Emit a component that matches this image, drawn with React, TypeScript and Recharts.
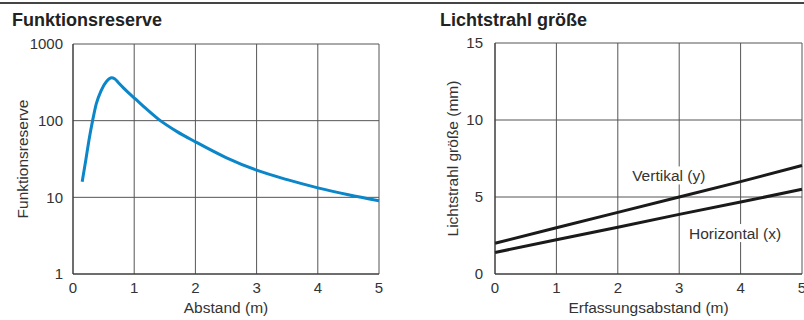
import React from "react";
import { LineChart, Line, XAxis, YAxis, CartesianGrid, ReferenceDot } from "recharts";

const FONT = "'Liberation Sans', Arial, sans-serif";

// Left chart: Funktionsreserve vs Abstand
const reserveDistance = [0.15, 0.21, 0.26, 0.32, 0.38, 0.46, 0.55, 0.63, 0.68, 0.75, 0.82, 0.9, 1.02, 1.2, 1.4, 1.7, 2.0, 2.5, 3.0, 3.5, 4.0, 4.5, 5.0];
const reserveValues = [16, 31, 55, 100, 166, 247, 326, 362, 352, 308, 270, 234, 192, 142, 104, 72, 53, 33, 22.6, 17, 13.3, 10.8, 9];
const reserveXTicks = [0, 1, 2, 3, 4, 5];
const reserveYTicks = [1, 10, 100, 1000];

// Right chart: Lichtstrahl größe vs Erfassungsabstand
const beamDistance = [0, 1, 2, 3, 4, 5];
const beamVertical = [2.0, 3.0, 4.0, 5.0, 6.0, 7.05];
const beamHorizontal = [1.4, 2.22, 3.04, 3.87, 4.67, 5.5];
const beamXTicks = [0, 1, 2, 3, 4, 5];
const beamYTicks = [0, 5, 10, 15];

const labelVertical = { text: "Vertikal (y)", x: 2.83, y: 6.4 };
const labelHorizontal = { text: "Horizontal (x)", x: 3.91, y: 2.66 };

const reserveData = reserveDistance.map((d, i) => ({ d, v: reserveValues[i] }));
const beamData = beamDistance.map((d, i) => ({ d, vert: beamVertical[i], hor: beamHorizontal[i] }));

const TXT = 15.5;
const tickStyle = { fill: "#333", fontSize: 15, fontFamily: FONT };

const RotatedLabel = (text: string, cx: number) => (props: any) => {
  const vb = props.viewBox || {};
  const cy = vb.y + vb.height / 2;
  return (
    <text
      x={cx}
      y={cy}
      transform={`rotate(-90 ${cx} ${cy})`}
      textAnchor="middle"
      dominantBaseline="central"
      fill="#333"
      fontSize={TXT}
      fontFamily={FONT}
    >
      {text}
    </text>
  );
};

const BoxLabel = (text: string) => (props: any) => {
  const vb = props.viewBox || {};
  const cx = vb.x + (vb.width || 0) / 2;
  const cy = vb.y + (vb.height || 0) / 2;
  const w = text.length * 6.9 + 4;
  return (
    <g>
      <rect x={cx - w / 2} y={cy - 9} width={w} height={18} fill="#fff" />
      <text x={cx} y={cy} textAnchor="middle" dominantBaseline="central" fill="#333" fontSize={TXT} fontFamily={FONT}>
        {text}
      </text>
    </g>
  );
};

const XTitle = (text: string) => (props: any) => {
  const vb = props.viewBox || {};
  const cx = vb.x + vb.width / 2;
  return (
    <text x={cx} y={vb.y + 33} textAnchor="middle" dominantBaseline="central" fill="#333" fontSize={TXT} fontFamily={FONT}>
      {text}
    </text>
  );
};

const titleStyle: React.CSSProperties = {
  position: "absolute",
  fontFamily: FONT,
  fontWeight: "bold",
  fontSize: 18,
  color: "#222",
  lineHeight: "20px",
  whiteSpace: "nowrap",
};

export default function App() {
  return (
    <div style={{ position: "absolute", left: 0, top: 0, width: 804, height: 320, background: "#fff", overflow: "hidden" }}>
      <div style={{ position: "absolute", left: 0, top: 2, width: 804, height: 2, background: "#444" }} />
      <div style={{ ...titleStyle, left: 12, top: 10 }}>Funktionsreserve</div>
      <div style={{ ...titleStyle, left: 440, top: 10 }}>Lichtstrahl größe</div>

      <div style={{ position: "absolute", left: 0, top: 0 }}>
        <LineChart width={400} height={320} data={reserveData} margin={{ top: 44, right: 21, left: 0, bottom: 0 }}>
          <CartesianGrid stroke="#555" strokeWidth={1} />
          <XAxis
            dataKey="d"
            type="number"
            domain={[0, 5]}
            ticks={reserveXTicks}
            tickLine={false}
            axisLine={{ stroke: "#333" }}
            tick={tickStyle}
            height={46}
            interval={0}
            label={{ content: XTitle("Abstand (m)") } as any}
          />
          <YAxis
            type="number"
            scale="log"
            domain={[1, 1000]}
            ticks={reserveYTicks}
            allowDataOverflow
            tickLine={false}
            axisLine={{ stroke: "#333" }}
            tick={tickStyle}
            width={73}
            interval={0}
            tickMargin={4}
            label={{ content: RotatedLabel("Funktionsreserve", 22) } as any}
          />
          <Line
            dataKey="v"
            type="monotone"
            stroke="#0a86c9"
            strokeWidth={3}
            dot={false}
            isAnimationActive={false}
          />
        </LineChart>
      </div>

      <div style={{ position: "absolute", left: 420, top: 0 }}>
        <LineChart width={384} height={320} data={beamData} margin={{ top: 43, right: 2, left: 0, bottom: 0 }}>
          <CartesianGrid stroke="#555" strokeWidth={1} />
          <XAxis
            dataKey="d"
            type="number"
            domain={[0, 5]}
            ticks={beamXTicks}
            tickLine={false}
            axisLine={{ stroke: "#333" }}
            tick={tickStyle}
            height={46}
            interval={0}
            label={{ content: XTitle("Erfassungsabstand (m)") } as any}
          />
          <YAxis
            type="number"
            domain={[0, 15]}
            ticks={beamYTicks}
            tickLine={false}
            axisLine={{ stroke: "#333" }}
            tick={tickStyle}
            width={75}
            interval={0}
            tickMargin={6}
            label={{ content: RotatedLabel("Lichtstrahl größe (mm)", 32) } as any}
          />
          <ReferenceDot x={labelVertical.x} y={labelVertical.y} r={0} fill="none" stroke="none" label={{ content: BoxLabel(labelVertical.text) } as any} />
          <ReferenceDot x={labelHorizontal.x} y={labelHorizontal.y} r={0} fill="none" stroke="none" label={{ content: BoxLabel(labelHorizontal.text) } as any} />
          <Line dataKey="vert" type="linear" stroke="#1a1a1a" strokeWidth={3} dot={false} isAnimationActive={false} />
          <Line dataKey="hor" type="linear" stroke="#1a1a1a" strokeWidth={3} dot={false} isAnimationActive={false} />
        </LineChart>
      </div>
    </div>
  );
}
